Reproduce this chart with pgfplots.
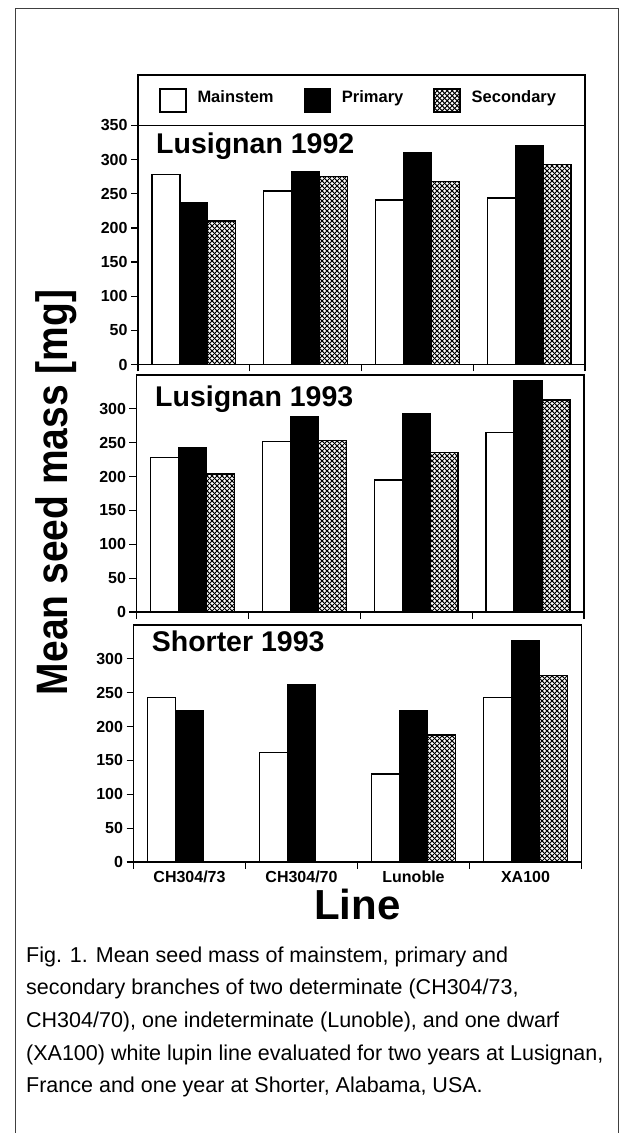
\documentclass[border=0pt]{standalone}
\usepackage{fontspec}
\setmainfont{Liberation Sans}
\usepackage{pgfplots}
\usepackage{pgfplotstable}
\pgfplotsset{compat=1.18}
\usetikzlibrary{patterns,patterns.meta}

\pgfdeclarepattern{
  name=diamonds, type=uncolored,
  bottom left={\pgfpoint{0pt}{0pt}}, top right={\pgfpoint{5pt}{5pt}},
  tile size={\pgfpoint{5pt}{5pt}},
  code={
    \pgfsetlinewidth{1.2pt}
    \pgfpathmoveto{\pgfpoint{-1pt}{-1pt}}\pgfpathlineto{\pgfpoint{6pt}{6pt}}
    \pgfpathmoveto{\pgfpoint{-1pt}{6pt}}\pgfpathlineto{\pgfpoint{6pt}{-1pt}}
    \pgfusepath{stroke}
  }
}

% x: 0 CH304/73, 1 CH304/70, 2 Lunoble, 3 XA100
\pgfplotstableread{
x M P S
0 278.5 237 210
1 254 282 275
2 241 310 267.6
3 244 321 293
}\lusA
\pgfplotstableread{
x M P S
0 228 242.7 204
1 251.5 288.5 253.6
2 195 292.5 236
3 265 341 313
}\lusB
\pgfplotstableread{
x M P S
0 242.7 223.5 nan
1 162 261.4 nan
2 130 223.5 187.6
3 242.7 326.5 275.8
}\shorter

\pgfplotsset{
  panel/.style={
    scale only axis, ybar, bar width=0.25,
    xmin=-0.5, xmax=3.5, ymin=0, ymax=350,
    xtick={-0.5,0.5,1.5,2.5,3.5}, xticklabels={},
    tick align=outside, major tick length=7pt, tick pos=left,
    axis line style={line width=1.4pt},
    tick style={line width=1.2pt, black},
    yticklabel style={font=\fontsize{16}{16}\selectfont\bfseries},
    /pgf/number format/assume math mode=true,
    clip=false,
  },
  bs/.style={draw=black, line width=1.3pt,
    legend image code/.code={\draw[##1,line width=1.3pt] (0pt,-14.5pt) rectangle (26pt,8.5pt);}},
  mstem/.style={bs, fill=white, bar shift=-0.25},
  prim/.style={bs, fill=black, bar shift=0},
  sec/.style={bs, pattern=diamonds, bar shift=0.25},
}
\tikzset{ttl/.style={anchor=base west, font=\fontsize{28.5}{28.5}\selectfont\bfseries}}

\begin{document}
\begin{tikzpicture}[x=1pt,y=1pt]
\useasboundingbox (0,0) rectangle (627,1133);
% outer frame
\draw[line width=0.8pt, black!75] (15,0) -- (15,1125) -- (618,1125) -- (618,0);

% Panel 1
\begin{axis}[panel, at={(138pt,768.5pt)}, anchor=south west,
  width=447pt, height=239pt, ytick={0,50,...,350},
  legend columns=3,
  legend style={at={(0,1)}, anchor=west, xshift=21pt, yshift=25pt,
    draw=none, fill=none, inner sep=0pt,
    font=\fontsize{16.5}{16.5}\selectfont\bfseries,
    nodes={inner sep=0pt},
    /tikz/every odd column/.append style={column sep=11pt},
    /tikz/every even column/.append style={column sep=30pt}},
  ]
  \addplot[mstem] table[x=x,y=M]{\lusA};
  \addplot[prim] table[x=x,y=P]{\lusA};
  \addplot[sec] table[x=x,y=S]{\lusA};
  \legend{Mainstem,Primary,Secondary}
  \node[ttl, xshift=14.7pt, yshift=-27.6pt] at (rel axis cs:0,1) {Lusignan 1992};
\end{axis}
\draw[line width=1.4pt] (138,1007.5) -- (138,1058) -- (585,1058) -- (585,1007.5);

% Panel 2
\begin{axis}[panel, at={(136.5pt,521pt)}, anchor=south west,
  width=447.5pt, height=237pt, ytick={0,50,...,300}]
  \addplot[mstem] table[x=x,y=M]{\lusB};
  \addplot[prim] table[x=x,y=P]{\lusB};
  \addplot[sec] table[x=x,y=S]{\lusB};
  \node[ttl, xshift=15.2pt, yshift=-31.7pt] at (rel axis cs:0,1) {Lusignan 1993};
\end{axis}

% Panel 3
\begin{axis}[panel, at={(133.5pt,271pt)}, anchor=south west,
  width=448pt, height=237pt, ytick={0,50,...,300},
  extra x ticks={0,1,2,3},
  extra x tick labels={CH304/73,CH304/70,Lunoble,XA100},
  extra x tick style={major tick length=0pt,
    xticklabel style={font=\fontsize{16}{16}\selectfont\bfseries, anchor=base, yshift=-21pt}},
  xlabel={Line},
  xlabel style={font=\fontsize{42}{42}\selectfont\bfseries,
    at={(axis description cs:0.5,0)}, anchor=base, yshift=-58pt},
  ]
  \addplot[mstem] table[x=x,y=M]{\shorter};
  \addplot[prim] table[x=x,y=P]{\shorter};
  \addplot[sec] table[x=x,y=S]{\shorter};
  \node[ttl, xshift=14.8pt, yshift=-26.7pt] at (rel axis cs:0,1) {Shorter 1993};
\end{axis}

% y label
\node[rotate=90, xscale=0.886, anchor=base, font=\fontsize{44}{44}\selectfont\bfseries] at (67.5,640.5) {Mean seed mass [mg]};

% caption (anchor at baseline of last line)
\node[anchor=base west, align=left, inner sep=0pt, font=\fontsize{21.5}{32.6}\selectfont] at (26,40.2) {Fig. 1. Mean seed mass of mainstem, primary and\\
secondary branches of two determinate (CH304/73,\\
CH304/70), one indeterminate (Lunoble), and one dwarf\\
(XA100) white lupin line evaluated for two years at Lusignan,\\
France and one year at Shorter, Alabama, USA.};
\end{tikzpicture}
\end{document}
